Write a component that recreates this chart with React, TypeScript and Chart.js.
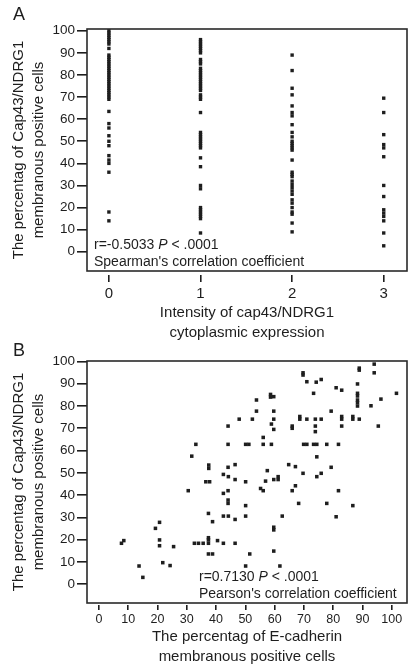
import React, { useEffect, useRef } from "react";
import { Chart, registerables } from "chart.js";

Chart.register(...registerables);

// ---------- Panel A data ----------
const INTENSITY_LEVELS = [0, 1, 2, 3];
const intensity0 = [100, 99, 98, 97, 96, 95, 94, 92, 89, 88, 87, 86, 85, 84, 83, 82, 81, 80, 79, 78, 77, 76, 75, 74, 73, 72, 71, 70, 69, 63.5, 58, 56, 52.5, 50, 48, 43.5, 41.5, 40, 36, 18, 14];
const intensity1 = [96, 95, 94, 93, 92, 91, 90, 87, 86, 85, 83, 82, 81, 80, 79, 78, 77, 76, 75, 74, 73, 71, 70, 69, 63, 54, 53, 52, 51, 50, 49, 48, 47, 42.5, 38.5, 30, 28.5, 20, 19, 18, 17, 16, 15, 8.5];
const intensity2 = [89, 82, 74, 71, 66, 63, 61.5, 57.5, 54, 52, 50, 49, 48, 47, 46, 41.5, 36, 35, 34, 32, 30.5, 29, 27.5, 26, 23.5, 22, 20, 18, 17, 13, 9];
const intensity3 = [69.5, 63, 53, 48.5, 47, 43, 30, 25, 19, 17.5, 16, 14, 8.5, 2.7];
const A_X_TICKS = [0, 1, 2, 3];
const Y_TICKS = [0, 10, 20, 30, 40, 50, 60, 70, 80, 90, 100];

// ---------- Panel B data ----------
const ecadherinPct = [
  30.5, 31.7, 33.1, 37.5, 37.5, 36.5, 37.8, 44.1, 44.1, 44.1, 42.5, 44.2, 42.5, 44.1, 44.1, 44.1,
  46.5, 46.5, 47.9, 50.1, 50.1, 51.2, 50.1, 53.8, 53.8, 52.4, 56.1, 56.1, 57.5, 56.9, 56.1, 55.2,
  58.6, 58.6, 59.7, 59.7, 59.7, 58.9, 59.7, 58.9, 59.7, 61.2, 61.2, 64.8, 67.1, 66, 67.1, 66, 66,
  68.6, 68.6, 68.2, 69.7, 69.7, 69.7, 71, 71, 69.9, 71, 74.2, 75.9, 73.3, 73.9, 73.9, 73.9, 73.3,
  74.4, 74.4, 74.4, 75.9, 75.9, 77.8, 79.3, 79.3, 77.8, 81, 82.9, 81.8, 81.8, 82.9, 82.9, 82.9,
  86.7, 86.7, 86.7, 88.3, 88.3, 88.3, 88.3, 88.3, 88.3, 88.9, 88.9, 88.9, 92.9, 94, 94, 96.3, 95.4, 101.6,
  7.7, 8.5, 13.7, 15, 19.3, 20.7, 20.7, 20.7, 21.8, 24.3, 25.5, 32.6, 34, 35.6, 37.4, 37.4, 37.4,
  37.4, 38.8, 37.4, 38.8, 40.5, 42.5, 42.5, 44.2, 46.5, 46.5, 50.1, 50.1, 51.5, 59.7, 59.7, 59.7,
  62.6, 61.8, 81
];
const cap43Pct = [
  42, 57.5, 62.8, 53.5, 52, 46, 46, 71, 62.8, 52.5, 49.3, 48.3, 40.8, 42, 37.8, 36.3,
  53.7, 47, 74.1, 46, 62.8, 62.8, 35.3, 82.7, 77.7, 74.1, 65.9, 62.8, 51, 46.3, 42, 43,
  85.2, 84, 84.2, 77.7, 74.1, 71.9, 69.5, 62.8, 47, 48.3, 47, 53.7, 52.8, 42, 44.2, 71, 70,
  75.3, 74.1, 36.3, 94.9, 93.9, 49.8, 90.9, 74.1, 62.8, 62.8, 90.7, 91.9, 85.7, 74.1, 71, 68.5, 62.8,
  62.8, 57.2, 48.3, 49.8, 74.1, 62.8, 77.7, 52.5, 36.3, 88.2, 87.1, 62.8, 42, 75.3, 74.1, 71,
  75.3, 74.1, 35.3, 89.9, 85.7, 84.5, 82.7, 81.5, 80, 74.1, 97, 96.1, 80.1, 98.8, 94.9, 83.1, 71, 85.7,
  18.4, 19.6, 8.2, 3.1, 25.1, 27.8, 19.9, 17.3, 9.7, 8.4, 16.9, 18.4, 18.4, 18.4, 20.9, 19.9, 18.4,
  13.6, 13.6, 31.8, 28.1, 19.6, 18.4, 30.6, 30.6, 29.1, 18.4, 30.6, 8.2, 13.6, 25.6, 24.4, 14.9,
  30.6, 8.2, 30.3
];
const B_X_TICKS = [0, 10, 20, 30, 40, 50, 60, 70, 80, 90, 100];

const INK = "#1e1e1e";
const SANS = "'Liberation Sans', Arial, sans-serif";

function boxPlugin(line1Prefix: string, line2: string, dx: number) {
  return {
    id: "boxAndNote",
    afterDraw(chart: any) {
      const { ctx, chartArea: a } = chart;
      ctx.save();
      ctx.strokeStyle = "#2a2a2a";
      ctx.lineWidth = 1.6;
      ctx.strokeRect(a.left, a.top, a.right - a.left, a.bottom - a.top);
      ctx.fillStyle = INK;
      ctx.textBaseline = "middle";
      ctx.textAlign = "left";
      const x0 = a.left + dx;
      const y1 = a.bottom - 26;
      const y2 = a.bottom - 9;
      ctx.font = `14px ${SANS}`;
      ctx.fillText(line1Prefix, x0, y1);
      let x = x0 + ctx.measureText(line1Prefix).width;
      ctx.font = `italic 14px ${SANS}`;
      ctx.fillText("P", x, y1);
      x += ctx.measureText("P").width;
      ctx.font = `14px ${SANS}`;
      ctx.fillText(" < .0001", x, y1);
      ctx.fillText(line2, x0, y2);
      ctx.restore();
    },
  };
}

function makeTicks(values: number[]) {
  return (s: any) => {
    s.ticks = values.map((v) => ({ value: v }));
  };
}

export default function App() {
  const refA = useRef<HTMLCanvasElement>(null);
  const refB = useRef<HTMLCanvasElement>(null);

  useEffect(() => {
    const columns = [intensity0, intensity1, intensity2, intensity3];
    const pointsA: { x: number; y: number }[] = [];
    columns.forEach((col, i) => col.forEach((v) => pointsA.push({ x: INTENSITY_LEVELS[i], y: v })));
    const pointsB = ecadherinPct.map((x, i) => ({ x, y: cap43Pct[i] }));

    const yTitle = ["The percentag of Cap43/NDRG1", "membranous positive cells"];

    const chartA = new Chart(refA.current!, {
      type: "scatter",
      data: {
        datasets: [
          { data: pointsA, pointStyle: "rect", pointRadius: 2.4, backgroundColor: INK, borderWidth: 0 },
        ],
      },
      options: {
        animation: false,
        responsive: false,
        maintainAspectRatio: false,
        layout: { padding: { top: 29, right: 2, left: 0, bottom: 0 } },
        plugins: { legend: { display: false }, tooltip: { enabled: false } },
        scales: {
          x: {
            type: "linear",
            min: -0.239,
            max: 3.254,
            afterBuildTicks: makeTicks(A_X_TICKS),
            afterFit: (s: any) => { s.height = 74; },
            grid: { drawOnChartArea: false, drawTicks: true, tickLength: 11, color: INK, lineWidth: 1.6, tickBorderDash: [7, 4], tickBorderDashOffset: 7 },
            border: { display: false },
            ticks: { padding: 3, color: INK, font: { family: SANS, size: 15 }, maxRotation: 0, autoSkip: false },
            title: { display: true, text: ["Intensity of cap43/NDRG1", "cytoplasmic expression"], color: INK, font: { family: SANS, size: 15, lineHeight: 1.33 }, padding: { top: 0, bottom: 2 } },
          },
          y: {
            type: "linear",
            min: -8.7,
            max: 100.8,
            afterBuildTicks: makeTicks(Y_TICKS),
            afterFit: (s: any) => { s.width = 87; },
            grid: { drawOnChartArea: false, drawTicks: true, tickLength: 10, color: INK, lineWidth: 1.6 },
            border: { display: false },
            ticks: { padding: 2, color: INK, font: { family: SANS, size: 13.5 } },
            title: { display: true, text: yTitle, color: INK, font: { family: SANS, size: 15, lineHeight: 1.33 }, padding: { top: 9, bottom: 0 } },
          },
        },
      },
      plugins: [boxPlugin("r=-0.5033 ", "Spearman's correlation coefficient", 7)],
    } as any);

    const chartB = new Chart(refB.current!, {
      type: "scatter",
      data: {
        datasets: [
          { data: pointsB, pointStyle: "rect", pointRadius: 2.5, backgroundColor: INK, borderWidth: 0 },
        ],
      },
      options: {
        animation: false,
        responsive: false,
        maintainAspectRatio: false,
        layout: { padding: { top: 21, right: 2, left: 0, bottom: 0 } },
        plugins: { legend: { display: false }, tooltip: { enabled: false } },
        scales: {
          x: {
            type: "linear",
            min: -4.07,
            max: 105.2,
            afterBuildTicks: makeTicks(B_X_TICKS),
            afterFit: (s: any) => { s.height = 64; },
            grid: { drawOnChartArea: false, drawTicks: true, tickLength: 7, color: INK, lineWidth: 1.6, tickBorderDash: [5, 2], tickBorderDashOffset: 5 },
            border: { display: false },
            ticks: { padding: 2, color: INK, font: { family: SANS, size: 12.5 }, maxRotation: 0, autoSkip: false },
            title: { display: true, text: ["The percentag of E-cadherin", "membranous positive cells"], color: INK, font: { family: SANS, size: 15, lineHeight: 1.33 }, padding: { top: 0, bottom: 0 } },
          },
          y: {
            type: "linear",
            min: -8.4,
            max: 100.2,
            afterBuildTicks: makeTicks(Y_TICKS),
            afterFit: (s: any) => { s.width = 87; },
            grid: { drawOnChartArea: false, drawTicks: true, tickLength: 10, color: INK, lineWidth: 1.6 },
            border: { display: false },
            ticks: { padding: 2, color: INK, font: { family: SANS, size: 13.5 } },
            title: { display: true, text: yTitle, color: INK, font: { family: SANS, size: 15, lineHeight: 1.33 }, padding: { top: 9, bottom: 0 } },
          },
        },
      },
      plugins: [boxPlugin("r=0.7130 ", "Pearson's correlation coefficient", 112)],
    } as any);

    return () => {
      chartA.destroy();
      chartB.destroy();
    };
  }, []);

  const letter: React.CSSProperties = {
    position: "absolute",
    left: 13,
    fontFamily: SANS,
    fontSize: 18,
    color: INK,
    lineHeight: "18px",
  };

  return (
    <div style={{ position: "fixed", left: 0, top: 0, width: 411, height: 667, background: "#fff", overflow: "hidden" }}>
      <canvas ref={refA} width={411} height={345} style={{ position: "absolute", left: 0, top: 0, display: "block" }} />
      <canvas ref={refB} width={411} height={327} style={{ position: "absolute", left: 0, top: 340, display: "block" }} />
      <div style={{ ...letter, top: 5 }}>A</div>
      <div style={{ ...letter, top: 341 }}>B</div>
    </div>
  );
}
